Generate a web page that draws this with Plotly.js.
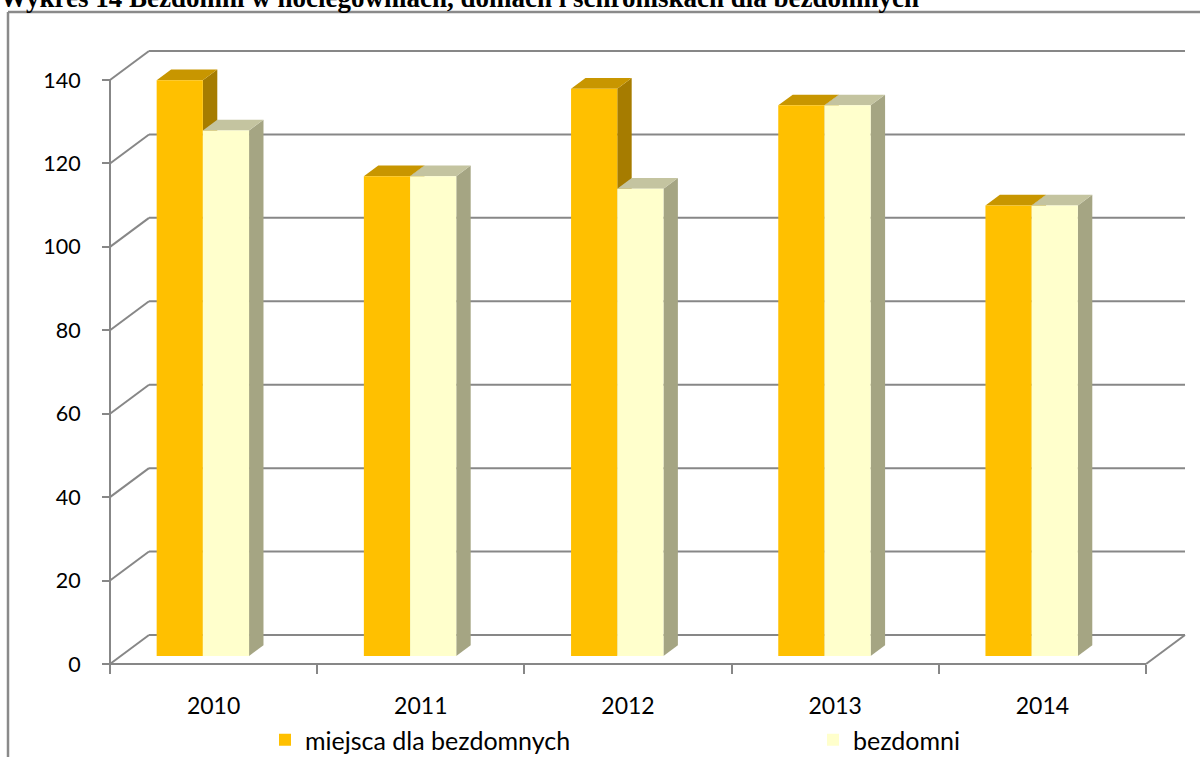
<!DOCTYPE html>
<html>
<head>
<meta charset="utf-8">
<script src="https://cdn.plot.ly/plotly-3.0.1.min.js"></script>
<style>
  html, body { margin: 0; padding: 0; background: #ffffff; }
  #chart { width: 1200px; height: 757px; }
</style>
</head>
<body>
<div id="chart"></div>
<script>
// ---- data ----
const chartTitle = 'Wykres 14 Bezdomni w noclegowniach, domach i schroniskach dla bezdomnych';
const categories = ['2010', '2011', '2012', '2013', '2014'];
const miejsca = [138, 115, 136, 132, 108];
const bezdomni = [126, 115, 112, 132, 108];
const yTickValues = [0, 20, 40, 60, 80, 100, 120, 140];
const seriesNames = ['miejsca dla bezdomnych', 'bezdomni'];

// ---- styling / geometry (oblique 3D look) ----
const W = 1200, H = 757;
const L = 104, R = 1194, T = 44, B = 668;       // plot area in px
const frontX0 = 110, catPx = 207.2;               // front plane: x of first boundary, px per category
const frontY0 = 664, unitPx = 584 / 140;          // front plane: y of value 0, px per unit
const xRange = [-0.5 - (frontX0 - L) / catPx, -0.5 + (R - frontX0) / catPx];
const yRange = [-(B - frontY0) / unitPx, (frontY0 - T) / unitPx];
const DX = 39 / catPx;          // full depth offset in x units
const DY = 29 / unitPx;         // full depth offset in y units
const f0 = 0.276;               // depth of bars' front face
const fd = 0.37;                // bar depth (fraction of full depth)
const barW = 46.2 / catPx;
const offOrange = -0.5 + 35.9 / catPx + f0 * DX;
const offCream = offOrange + barW;
const b0 = f0 * DY;
const dDx = fd * DX, dDy = fd * DY;

const gridCol = '#878787';
const colors = {
  front: ['#FFC000', '#FFFFCC'],
  top:   ['#C89600', '#C4C4A0'],
  side:  ['#A67C00', '#A5A583']
};

const xs = categories.map((c, i) => i);
const shapes = [];
function line(x0, y0, x1, y1, w, col) {
  shapes.push({type: 'line', xref: 'x', yref: 'y', x0, y0, x1, y1, layer: 'below',
               line: {color: col || gridCol, width: w || 2}});
}
// back wall gridlines + left wall diagonals
yTickValues.forEach(v => {
  line(-0.5, v, -0.5 + DX, v + DY);
  line(-0.5 + DX, v + DY, categories.length - 0.5 + DX, v + DY);
});
// floor front edge, right diagonal, front vertical axis line
line(-0.5, 0, categories.length - 0.5, 0);
line(categories.length - 0.5, 0, categories.length - 0.5 + DX, DY);
line(-0.5, 0, -0.5, yTickValues[yTickValues.length - 1]);

// 3D faces of bars (top + right side), computed from the data
const series = [miejsca, bezdomni];
const offs = [offOrange, offCream];
series.forEach((vals, s) => {
  vals.forEach((v, i) => {
    const xl = xs[i] + offs[s], xr = xl + barW, top = v + b0;
    shapes.push({type: 'path', xref: 'x', yref: 'y', layer: 'below',
      path: `M${xr},${b0} L${xr},${top} L${xr + dDx},${top + dDy} L${xr + dDx},${b0 + dDy} Z`,
      fillcolor: colors.side[s], line: {width: 0}});
    shapes.push({type: 'path', xref: 'x', yref: 'y', layer: 'below',
      path: `M${xl},${top} L${xr},${top} L${xr + dDx},${top + dDy} L${xl + dDx},${top + dDy} Z`,
      fillcolor: colors.top[s], line: {width: 0}});
  });
});

// outer chart frame (top and left edges visible)
const px2paperX = p => (p - L) / (R - L);
const px2paperY = p => (B - p) / (B - T);
shapes.push({type: 'line', xref: 'paper', yref: 'paper', layer: 'above',
  x0: px2paperX(8), y0: px2paperY(12), x1: px2paperX(1210), y1: px2paperY(12),
  line: {color: '#8a8a8a', width: 2.5}});
shapes.push({type: 'line', xref: 'paper', yref: 'paper', layer: 'above',
  x0: px2paperX(8), y0: px2paperY(12), x1: px2paperX(8), y1: px2paperY(770),
  line: {color: '#8a8a8a', width: 2.5}});

const legendIds = ['legend', 'legend2'];
const traces = series.map((vals, s) => ({
  type: 'bar',
  name: seriesNames[s],
  legend: legendIds[s],
  x: xs,
  y: vals,
  base: b0,
  offset: offs[s],
  width: barW,
  marker: {color: colors.front[s], line: {width: 0}},
  hovertemplate: categories.map(c => c + ': %{y}<extra>' + seriesNames[s] + '</extra>')
}));

const boundaries = [];
for (let i = 0; i <= categories.length; i++) boundaries.push(i - 0.5);

const legendFont = {family: 'Lato, Carlito, Calibri, sans-serif', size: 25, color: '#000000'};
const layout = {
  width: W, height: H,
  margin: {l: L, r: W - R, t: T, b: H - B, autoexpand: false},
  paper_bgcolor: '#ffffff',
  plot_bgcolor: 'rgba(0,0,0,0)',
  title: {
    text: '<b>' + chartTitle + '</b>',
    x: 0, xref: 'container', xanchor: 'left',
    y: 1 - 7 / H, yref: 'container', yanchor: 'bottom',
    font: {family: 'Liberation Serif, Times New Roman, serif', size: 27, color: '#000000'}
  },
  showlegend: true,
  barmode: 'overlay',
  xaxis: {
    type: 'linear', range: xRange, fixedrange: true,
    anchor: 'free', position: (B - frontY0) / (B - T),
    tickmode: 'array', tickvals: boundaries, ticktext: boundaries.map(() => ''),
    ticks: 'outside', ticklen: 9, tickwidth: 2, tickcolor: gridCol,
    showgrid: false, zeroline: false, showline: false
  },
  xaxis2: {
    type: 'linear', range: xRange, overlaying: 'x', fixedrange: true,
    anchor: 'free', position: (B - frontY0) / (B - T), side: 'bottom',
    tickmode: 'array', tickvals: xs, ticktext: categories,
    ticks: '', showgrid: false, zeroline: false, showline: false,
    ticklabelstandoff: 26,
    tickfont: {family: 'Lato, Carlito, Calibri, sans-serif', size: 23, color: '#000000'}
  },
  yaxis: {
    range: yRange, fixedrange: true,
    anchor: 'free', position: (frontX0 - L) / (R - L),
    tickmode: 'array', tickvals: yTickValues,
    ticks: 'outside', ticklen: 8, tickwidth: 2, tickcolor: gridCol,
    showgrid: false, zeroline: false, showline: false,
    ticklabelstandoff: 17,
    tickfont: {family: 'Lato, Carlito, Calibri, sans-serif', size: 21.5, color: '#000000'}
  },
  legend: {
    orientation: 'h',
    x: px2paperX(265), xanchor: 'left',
    y: px2paperY(740), yanchor: 'middle',
    bgcolor: 'rgba(0,0,0,0)', font: legendFont
  },
  legend2: {
    orientation: 'h',
    x: px2paperX(813), xanchor: 'left',
    y: px2paperY(740), yanchor: 'middle',
    bgcolor: 'rgba(0,0,0,0)', font: legendFont
  },
  shapes: shapes
};

// a helper trace to activate xaxis2 for category labels
traces.push({type: 'scatter', x: xs, y: xs.map(() => null), xaxis: 'x2', yaxis: 'y',
             showlegend: false, hoverinfo: 'skip', mode: 'markers'});

Plotly.newPlot('chart', traces, layout, {displayModeBar: false});
</script>
</body>
</html>
